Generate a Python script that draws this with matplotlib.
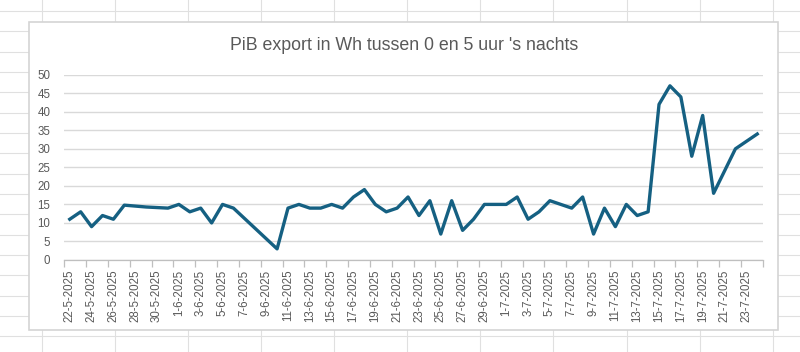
import matplotlib
matplotlib.use("Agg")
import matplotlib.pyplot as plt
import matplotlib.dates as mdates
from matplotlib.patches import Rectangle
from matplotlib.lines import Line2D
import pandas as pd

# data (missing days are simply not in the list)
dates = ["22-5-2025", "23-5-2025", "24-5-2025", "25-5-2025", "26-5-2025", "27-5-2025",
         "29-5-2025", "31-5-2025", "1-6-2025", "2-6-2025", "3-6-2025", "4-6-2025",
         "5-6-2025", "6-6-2025", "10-6-2025", "11-6-2025", "12-6-2025", "13-6-2025",
         "14-6-2025", "15-6-2025", "16-6-2025", "17-6-2025", "18-6-2025", "19-6-2025",
         "20-6-2025", "21-6-2025", "22-6-2025", "23-6-2025", "24-6-2025", "25-6-2025",
         "26-6-2025", "27-6-2025", "28-6-2025", "29-6-2025", "30-6-2025", "1-7-2025",
         "2-7-2025", "3-7-2025", "4-7-2025", "5-7-2025", "6-7-2025", "7-7-2025",
         "8-7-2025", "9-7-2025", "10-7-2025", "11-7-2025", "12-7-2025", "13-7-2025",
         "14-7-2025", "15-7-2025", "16-7-2025", "17-7-2025", "18-7-2025", "19-7-2025",
         "20-7-2025", "22-7-2025", "24-7-2025"]
export_wh = [11, 13, 9, 12, 11, 14.8,
             14.3, 14.0, 15, 13, 14, 10,
             15, 14, 3, 14, 15, 14,
             14, 15, 14, 17, 19, 15,
             13, 14, 17, 12, 16, 7,
             16, 8, 11, 15, 15, 15,
             17, 11, 13, 16, 15, 14,
             17, 7, 14, 9, 15, 12,
             13, 42, 47, 44, 28, 39,
             18, 30, 34]
axis_start = "22-5-2025"
axis_end = "25-7-2025"
yticks = [0, 5, 10, 15, 20, 25, 30, 35, 40, 45, 50]
title = "PiB export in Wh tussen 0 en 5 uur 's nachts"

plt.rcParams['font.family'] = ['Liberation Sans', 'DejaVu Sans']

W, H = 800, 352
fig = plt.figure(figsize=(W / 100, H / 100), dpi=100)
fig.patch.set_facecolor('white')

# spreadsheet cell grid behind the chart
cell_col = '#e0e0e0'
x = 41.7
while x < W:
    fig.add_artist(Line2D([x / W, x / W], [0, 1], color=cell_col, lw=0.8, zorder=0))
    x += 73.1
y = 10.8
while y < H:
    fig.add_artist(Line2D([0, 1], [1 - y / H, 1 - y / H], color=cell_col, lw=0.8, zorder=0))
    y += 20.35

# chart object box
fig.add_artist(Rectangle((29.3 / W, 1 - 330 / H), (778 - 29.3) / W, (330 - 22) / H,
                         facecolor='white', edgecolor='#d4d4d4', lw=1.2, zorder=1))

ax = fig.add_axes([64.3 / W, 1 - 260 / H, (762.7 - 64.3) / W, (260 - 74.7) / H], zorder=2)
ax.set_facecolor('none')

d = pd.to_datetime(dates, format="%d-%m-%Y") + pd.Timedelta(hours=12)
start = pd.to_datetime(axis_start, format="%d-%m-%Y")
end = pd.to_datetime(axis_end, format="%d-%m-%Y")

ax.plot(d, export_wh, color='#156082', lw=2.4, solid_joinstyle='round', zorder=3)

ax.set_xlim(start, end)
ax.set_ylim(0, 50)
ax.set_yticks(yticks)
ax.yaxis.grid(True, color='#d9d9d9', lw=1.0)
ax.set_axisbelow(True)

# labels at the middle of every 2nd day, tick marks at the day boundaries
label_days = pd.date_range(start, end - pd.Timedelta(days=1), freq='2D')
ax.set_xticks(label_days + pd.Timedelta(hours=12))
ax.set_xticklabels([f"{t.day}-{t.month}-{t.year}" for t in label_days], rotation=90)
ax.set_xticks(pd.date_range(start, end, freq='2D'), minor=True)
ax.tick_params(axis='x', which='major', length=0, pad=7, labelsize=8.3, labelcolor='#595959')
ax.tick_params(axis='x', which='minor', length=5, color='#bfbfbf', width=0.9)
ax.tick_params(axis='y', length=0, pad=10, labelsize=8.3, labelcolor='#595959')

for s in ['top', 'right', 'left']:
    ax.spines[s].set_visible(False)
ax.spines['bottom'].set_color('#bfbfbf')
ax.spines['bottom'].set_linewidth(0.9)

fig.text(404 / W, 1 - 46 / H, title, ha='center', va='center', fontsize=12.8,
         color='#595959', zorder=4)

fig.savefig('out.png', dpi=100)
